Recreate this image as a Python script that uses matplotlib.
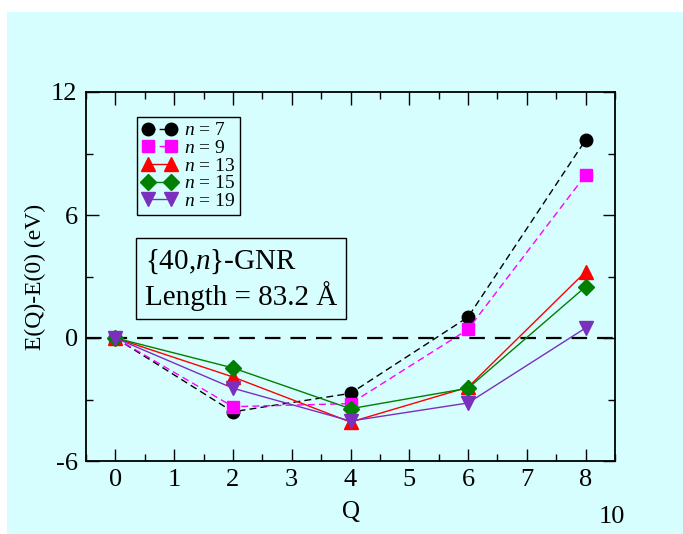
import matplotlib
matplotlib.use("Agg")
import matplotlib.pyplot as plt
from matplotlib.patches import Rectangle
from matplotlib.ticker import MultipleLocator

plt.rcParams['font.family'] = ['Liberation Serif', 'DejaVu Serif']
plt.rcParams['mathtext.fontset'] = 'custom'
plt.rcParams['mathtext.rm'] = 'Liberation Serif'
plt.rcParams['mathtext.it'] = 'Liberation Serif:italic'
plt.rcParams['axes.unicode_minus'] = False

Q = [0, 2, 4, 6, 8]
labels = ["7", "9", "13", "15", "19"]
E_n7 = [0.0, -3.6, -2.7, 1.02, 9.66]
E_n9 = [0.0, -3.35, -3.2, 0.42, 7.95]
E_n13 = [0.0, -1.9, -4.1, -2.4, 3.23]
E_n15 = [0.0, -1.46, -3.45, -2.45, 2.5]
E_n19 = [0.0, -2.45, -4.05, -3.17, 0.49]

series = [E_n7, E_n9, E_n13, E_n15, E_n19]
colors = ['black', '#ff00ff', '#ff0000', '#008000', '#7b2fbe']
markers = ['o', 's', '^', 'D', 'v']
styles = [(0, (5, 3)), (0, (5, 3)), '-', '-', '-']
msizes = [9, 8, 10, 8.5, 10]

bg = '#d6fefe'
fig = plt.figure(figsize=(6.83, 5.34), dpi=100, facecolor='white')
fig.patches.append(Rectangle((7/683, 0), 1 - 7/683, 1 - 12/534, transform=fig.transFigure,
                             facecolor=bg, edgecolor='none', zorder=-10))
ax = fig.add_axes([86/683, (534-461)/534, (615-86)/683, (461-92)/534])
ax.set_facecolor(bg)

ax.axhline(0, color='black', lw=1.6, dashes=(7, 4.5), zorder=1)

for y, c, m, ls, ms, lab in zip(series, colors, markers, styles, msizes, labels):
    ax.plot(Q, y, color=c, marker=m, linestyle=ls, lw=1.0, markersize=ms,
            markeredgecolor=c, label=r'$n$ = ' + lab, zorder=3)

ax.set_xlim(-0.5, 8.5)
ax.set_ylim(-6, 12)
ax.xaxis.set_major_locator(MultipleLocator(1))
ax.xaxis.set_minor_locator(MultipleLocator(0.5))
ax.yaxis.set_major_locator(MultipleLocator(6))
ax.yaxis.set_minor_locator(MultipleLocator(3))
ax.tick_params(which='both', direction='in', top=True, right=True, labelsize=19, width=1.0)
ax.tick_params(which='major', length=9, pad=6)
ax.tick_params(which='minor', length=5)
for s in ax.spines.values():
    s.set_linewidth(1.3)

ax.set_xlabel('Q', fontsize=18, labelpad=7)
ax.set_ylabel('E(Q)-E(0) (eV)', fontsize=17, labelpad=4)

leg = ax.legend(loc='upper left', bbox_to_anchor=((137-86)/529, (461-117)/369), numpoints=2,
                fontsize=14, frameon=True, fancybox=False, handlelength=1.8,
                handletextpad=0.35, labelspacing=0.0, borderpad=0.25, borderaxespad=0)
leg.get_frame().set_edgecolor('black')
leg.get_frame().set_facecolor(bg)
leg.get_frame().set_linewidth(1.0)
leg.get_frame().set_alpha(1)

ax.text((145-86)/529, (461-279)/369, r'{40,$n$}-GNR' + '\n' + 'Length = 83.2 Å',
        transform=ax.transAxes, fontsize=21, va='center', ha='left', linespacing=1.2,
        bbox=dict(boxstyle='square,pad=0.3', facecolor=bg, edgecolor='black', lw=1.0))

fig.text(612/683, 1 - 517/534, '10', fontsize=19, ha='center', va='center')

fig.savefig('out.png', dpi=100, facecolor=fig.get_facecolor())
